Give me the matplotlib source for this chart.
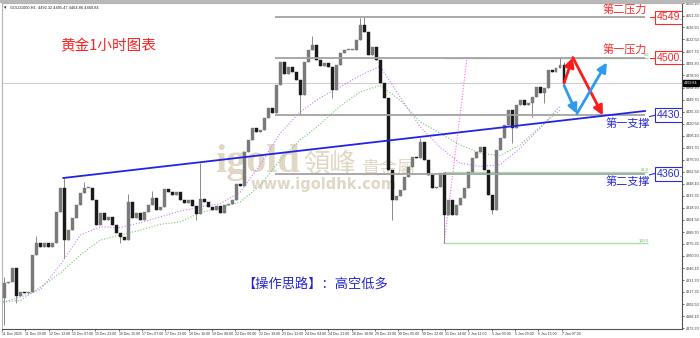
import numpy as np
import matplotlib
matplotlib.use("Agg")
import matplotlib.pyplot as plt
from matplotlib.patches import Rectangle
import matplotlib.transforms as mtransforms

plt.rcParams['font.family'] = ['Liberation Sans', 'DejaVu Sans', 'Noto Sans CJK SC']

# ---------------- data ----------------
first_open = 4210
closes = [4228, 4229, 4246, 4212, 4217, 4216, 4217, 4262, 4276, 4272,
          4276, 4272, 4276, 4314, 4343, 4280, 4292, 4307, 4322, 4337,
          4343, 4343, 4328, 4298, 4313, 4304, 4308, 4298, 4288, 4284,
          4280, 4326, 4307, 4313, 4304, 4314, 4322, 4331, 4316, 4320,
          4342, 4338, 4334, 4338, 4328, 4325, 4328, 4321, 4311, 4330,
          4326, 4320, 4316, 4321, 4313, 4322, 4324, 4328, 4348, 4345,
          4386, 4401, 4415, 4411, 4413, 4427, 4440, 4433, 4467, 4495,
          4481, 4489, 4483, 4473, 4455, 4495, 4510, 4516, 4498, 4490,
          4494, 4489, 4461, 4492, 4506, 4510, 4510, 4510, 4522, 4540,
          4531, 4504, 4513, 4498, 4470, 4452, 4365, 4328, 4333, 4340,
          4356, 4368, 4380, 4379, 4398, 4377, 4359, 4343, 4344, 4361,
          4310, 4328, 4310, 4322, 4331, 4343, 4362, 4379, 4386, 4392,
          4365, 4334, 4316, 4389, 4403, 4419, 4437, 4415, 4443, 4449,
          4443, 4446, 4453, 4465, 4458, 4464, 4486, 4483, 4488, 4492,
          4469.84]

# notable wicks: candle index, wick low, wick high (None = no extension)
wick_idx = [0, 3, 8, 15, 20, 29, 31, 37, 48, 49, 58, 68, 74, 77, 82, 89,
            90, 96, 97, 104, 110, 122, 127, 132, 135, 139, 140]
wick_lo = [4177, 4204, None, 4258, None, 4276, None, None, 4304, None, 4336,
           4455, 4431, None, 4452, None, None, None, 4304, None, 4276, 4311,
           4397, 4429, 4446, None, 4464.86]
wick_hi = [4235, None, 4285, 4355, 4350, None, 4336, 4339, None, 4373, None,
           None, None, 4527, None, 4548, 4550, None, None, 4403, None, None,
           None, None, None, 4500, 4495.47]

# moving averages, sampled every 5 candles
ma_fast = [4204, 4211, 4220, 4250, 4286, 4296, 4295, 4301, 4308, 4315,
           4320, 4324, 4338, 4371, 4409, 4435, 4452, 4465, 4479, 4490,
           4453, 4417, 4392, 4373, 4369, 4371, 4391, 4415, 4442]
ma_slow = [4205, 4207, 4223, 4240, 4262, 4280, 4286, 4292, 4299, 4302,
           4313, 4319, 4326, 4346, 4377, 4401, 4420, 4442, 4459, 4467,
           4449, 4423, 4409, 4395, 4385, 4382, 4395, 4417, 4437]

resist_levels = [4549.0, 4500.6]
support_levels = [4430.7, 4360.3]
resist_names = ["第二压力", "第一压力"]
support_names = ["第一支撑", "第二支撑"]

fib_high = 4500.6
fib_low = 4276.0
fib_ratios = [0.0, 61.8, 100.0]

trend_start = (14.75, 4355)
trend_end = (160.25, 4436)

x_labels = ["11 Dec 2025", "11 Dec 19:00", "12 Dec 12:00", "15 Dec 07:00",
            "15 Dec 23:00", "16 Dec 15:00", "17 Dec 07:00", "17 Dec 23:00",
            "18 Dec 16:00", "19 Dec 08:00", "22 Dec 00:00", "22 Dec 19:00",
            "23 Dec 12:00", "24 Dec 04:00", "24 Dec 21:00", "26 Dec 18:00",
            "29 Dec 13:00", "30 Dec 05:00", "30 Dec 22:00", "31 Dec 14:00",
            "2 Jan 11:00", "5 Jan 03:00", "5 Jan 20:00", "6 Jan 15:00",
            "7 Jan 07:00"]
y_ticks = [4566.10, 4551.30, 4536.90, 4522.50, 4507.70, 4493.30, 4478.90,
           4464.10, 4449.70, 4435.30, 4420.50, 4406.10, 4391.70, 4376.90,
           4362.50, 4348.10, 4333.30, 4318.90, 4304.50, 4289.70, 4275.30,
           4260.90, 4246.10, 4231.70, 4217.30, 4202.50, 4188.10, 4173.70]

title_text = "GOLD1000,H1  4492.32 4495.47 4464.86 4469.84"

# ---------------- figure ----------------
W, H = 700, 338
fig = plt.figure(figsize=(W / 100, H / 100), dpi=100)
fig.patch.set_facecolor('white')
ax_l, ax_r, ax_t, ax_b = 2, 682, 3, 329
ax = fig.add_axes([ax_l / W, (H - ax_b) / H, (ax_r - ax_l) / W, (ax_b - ax_t) / H])
ax.set_facecolor('white')
fig.patches.append(Rectangle((0, 1 - 2 / H), 1, 2 / H, transform=fig.transFigure,
                             color='#b8b8b8', zorder=0))

n = len(closes)
x = np.arange(n)
opens = [first_open] + closes[:-1]
highs = [max(o, c) for o, c in zip(opens, closes)]
lows = [min(o, c) for o, c in zip(opens, closes)]
for i, lo, hi in zip(wick_idx, wick_lo, wick_hi):
    if lo is not None:
        lows[i] = min(lows[i], lo)
    if hi is not None:
        highs[i] = max(highs[i], hi)

up_col, dn_col = '#7a7a7a', '#1a1a1a'
for xi, o, c, lo, hi in zip(x, opens, closes, lows, highs):
    col = up_col if c >= o else dn_col
    ax.vlines(xi, lo, hi, color='#8a8a8a', lw=0.7, zorder=3)
    bottom = min(o, c)
    h = max(abs(c - o), 0.9)
    ax.bar(xi, h, bottom=bottom, width=0.72, color=col, edgecolor=col, lw=0.3, zorder=3)

# moving averages
ma_x = np.arange(len(ma_fast)) * 5 - 1
ax.plot(ma_x, ma_fast, color='#c77dff', lw=0.8, ls=(0, (1, 1.6)), zorder=2)
ax.plot(ma_x, ma_slow, color='#6ccc6c', lw=0.8, ls=(0, (1, 1.6)), zorder=2)

# current price line
last = closes[-1]
ax.axhline(last, color='#cfcfcf', lw=0.8, zorder=1)

# fibonacci
fib_x0, fib_x1 = 110, 161
for r in fib_ratios:
    lvl = fib_high - (fib_high - fib_low) * r / 100
    ax.hlines(lvl, fib_x0, fib_x1, color='#a6e0a6', lw=1.0, zorder=2)
    ax.text(fib_x1 + 0.2, lvl + 1.0, f"{r:.1f}", fontsize=2.8, color='#5cb85c',
            ha='right', va='bottom', zorder=5)
ax.plot([fib_x0, 115.75], [fib_low, fib_high], color='#ff66ff', lw=0.8,
        ls=(0, (1, 1.5)), zorder=2)

# horizontal key levels
lvl_x0, lvl_x1 = 67.75, 160.25
for lv in resist_levels + support_levels:
    ax.hlines(lv, lvl_x0, lvl_x1, color='#a3a3a3', lw=1.3, zorder=4)

# trend line
ax.plot([trend_start[0], trend_end[0]], [trend_start[1], trend_end[1]],
        color='#2323e6', lw=1.3, zorder=4)

# level labels
cjk = ['Noto Sans CJK SC', 'DejaVu Sans']
for lv, name in zip(resist_levels, resist_names):
    ax.text(155.2, lv + 2.5, name, color='#ff2a2a', fontsize=8, family=cjk,
            ha='center', va='bottom', zorder=5)
    ax.plot([161.4, 162.6], [lv, lv], color='#ff2a2a', lw=0.8, zorder=5)
    ax.text(163.3, lv, f"{lv:.1f}", color='#ff2a2a', fontsize=7.6, ha='left',
            va='center', zorder=6, clip_on=True,
            bbox=dict(boxstyle='square,pad=0.18', fc='white', ec='#ff2a2a', lw=0.8))
for lv, name in zip(support_levels, support_names):
    ax.text(156.0, lv - 3.0, name, color='#2a2ad6', fontsize=8, family=cjk,
            ha='center', va='top', zorder=5)
    ax.plot([161.4, 162.6], [lv - 1.5, lv], color='#2a2ad6', lw=0.8, zorder=5)
    ax.text(163.3, lv, f"{lv:.1f}", color='#2a2ad6', fontsize=7.6, ha='left',
            va='center', zorder=6, clip_on=True,
            bbox=dict(boxstyle='square,pad=0.18', fc='white', ec='#2a2ad6', lw=0.8))

# scenario arrows
xe = n - 1
def arrow(p0, p1, col):
    ax.annotate('', xy=p1, xytext=p0,
                arrowprops=dict(arrowstyle='-|>,head_length=0.55,head_width=0.28',
                                color=col, lw=2.0, shrinkA=0, shrinkB=0),
                zorder=6)
r1, s1 = resist_levels[1], support_levels[0]
arrow((xe, last), (xe + 2.2, r1), '#ff1a1a')
arrow((xe + 2.2, r1), (xe + 9.7, s1), '#ff1a1a')
arrow((xe, last - 3), (xe + 3.2, s1 + 2), '#2e9af0')
arrow((xe + 3.2, s1 + 2), (xe + 10.7, r1 - 6), '#2e9af0')

# texts
ax.text(0.156, 0.868, "黄金1小时图表", transform=ax.transAxes, color='#ff2020',
        fontsize=10.5, family=cjk, ha='center', va='center', zorder=5)
ax.text(0.353, 0.138, "【操作思路】：高空低多", transform=ax.transAxes,
        color='#2323d0', fontsize=9.5, family=cjk, ha='left', va='center', zorder=5)
wm = '#e0d7c4'
ax.text(0.313, 0.512, "igold", transform=ax.transAxes, color=wm, fontsize=29,
        fontweight='bold', family='Liberation Serif', ha='left', va='center', zorder=1)
ax.text(0.443, 0.505, "領峰", transform=ax.transAxes, color=wm, fontsize=19,
        family=cjk, ha='left', va='center', zorder=1)
ax.text(0.528, 0.49, "貴金屬", transform=ax.transAxes, color=wm, fontsize=13,
        family=cjk, ha='left', va='center', zorder=1)
ax.text(0.365, 0.442, "www.igoldhk.com", transform=ax.transAxes, color=wm,
        fontsize=10.5, fontweight='bold', family='DejaVu Sans', ha='left',
        va='center', zorder=1)
ax.text(0.003, 0.993, "▾", transform=ax.transAxes, color='#222222',
        fontsize=3.5, family='DejaVu Sans', ha='left', va='top', zorder=5)
ax.text(0.012, 0.993, title_text, transform=ax.transAxes, color='#222222',
        fontsize=2.8, ha='left', va='top', zorder=5)

# axes & ticks
ax.set_xlim(-0.5, 169.5)
ax.set_ylim(4172.5, 4566.5)
ax.yaxis.tick_right()
ax.set_yticks(y_ticks)
ax.set_yticklabels([f"{v:.2f}" for v in y_ticks])
xt = np.arange(len(x_labels)) * 5.833 - 0.58
ax.set_xticks(xt)
ax.set_xticklabels(x_labels, ha='left')
ax.tick_params(axis='x', labelsize=2.5, length=1.5, width=0.5, pad=1,
               colors='#333333')
ax.tick_params(axis='y', labelsize=2.7, length=1.5, width=0.5, pad=1,
               colors='#333333')
for lab in ax.get_xticklabels():
    lab.set_horizontalalignment('left')
ax.spines['right'].set_color('#505050')
ax.spines['bottom'].set_color('#505050')
ax.spines['left'].set_color('#b5b5b5')
ax.spines['top'].set_color('#b5b5b5')
for s in ax.spines.values():
    s.set_linewidth(0.8)

# current price label on axis
tr = mtransforms.blended_transform_factory(ax.transAxes, ax.transData)
ax.text(1.003, last, f"{last:.2f}", transform=tr, color='white', fontsize=2.7,
        ha='left', va='center', clip_on=False, zorder=7,
        bbox=dict(boxstyle='square,pad=0.25', fc='black', ec='black'))

fig.savefig("out.png", dpi=100, facecolor='white')
